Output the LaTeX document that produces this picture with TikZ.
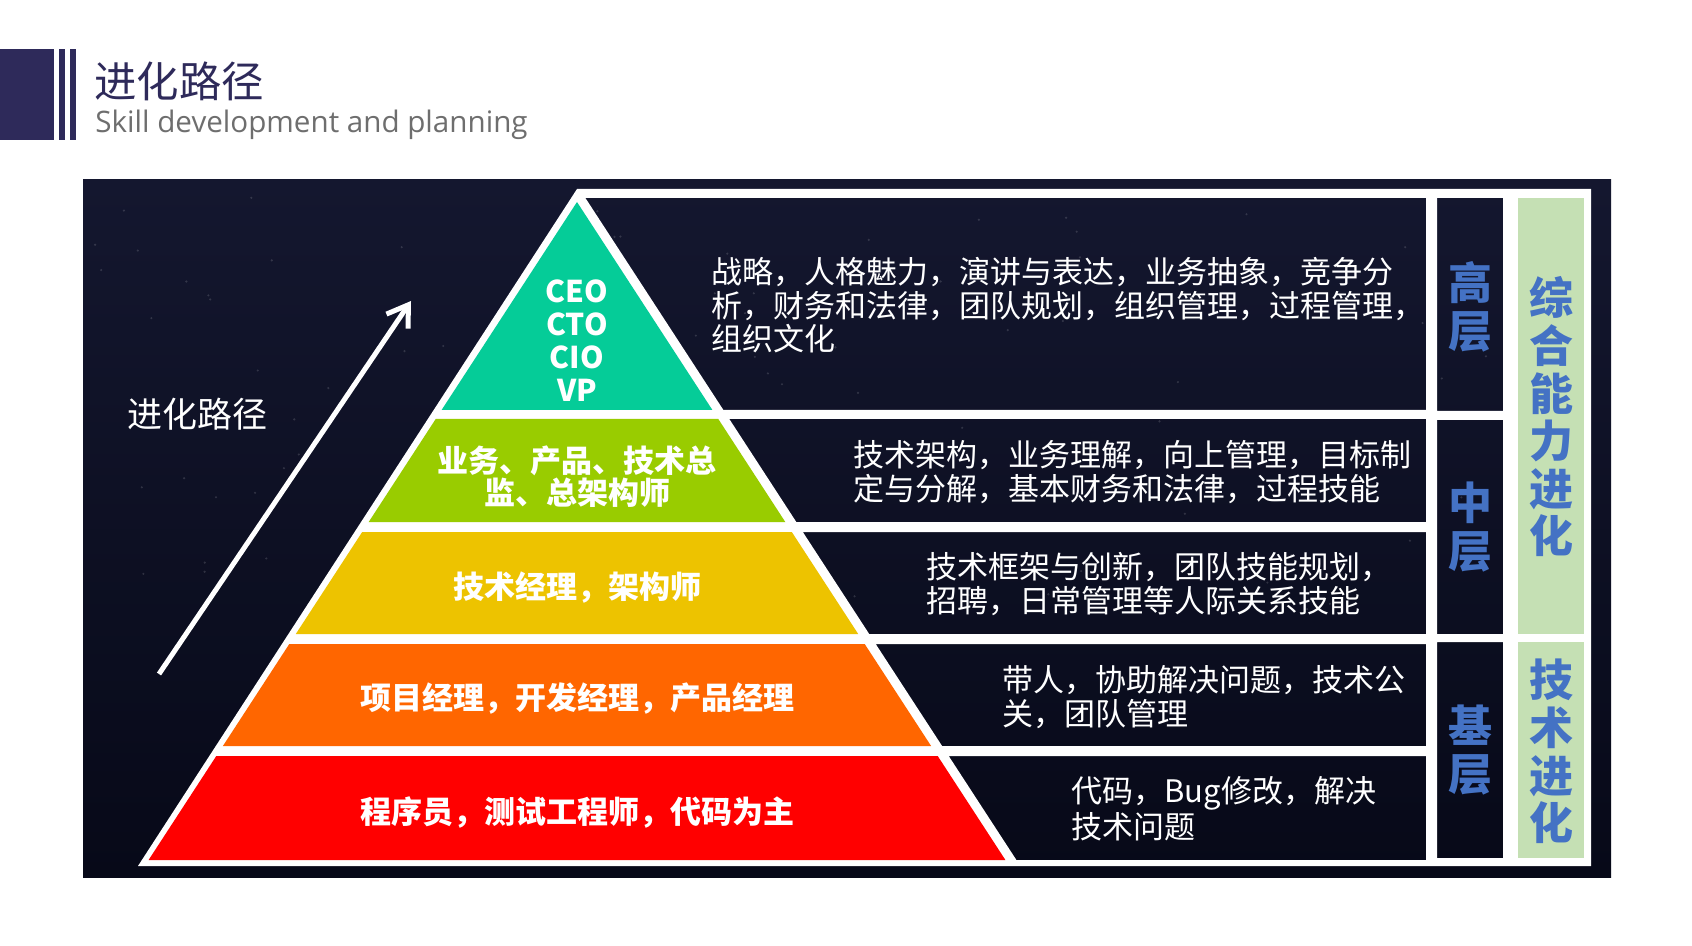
\documentclass[tikz,border=0pt]{standalone}
\usepackage{fontspec}
\setmainfont{Noto Sans CJK SC}
\newfontfamily\subfont{Open Sans}
\usetikzlibrary{arrows.meta}
\definecolor{navy}{HTML}{2E2A5A}
\definecolor{subgray}{HTML}{6E6E6E}
\definecolor{paneltop}{HTML}{14172F}
\definecolor{panelbot}{HTML}{070918}
\definecolor{layA}{HTML}{05CC98}
\definecolor{layB}{HTML}{99CC00}
\definecolor{layC}{HTML}{EDC300}
\definecolor{layD}{HTML}{FF6600}
\definecolor{layE}{HTML}{FF0000}
\definecolor{lvlblue}{HTML}{4472C4}
\definecolor{colgreen}{HTML}{C5E0B4}
\tikzset{
  lbl/.style={text=white, align=center, inner sep=0pt, font=\bfseries\fontsize{15.5}{16}\selectfont},
  desc/.style={text=white, align=left, anchor=west, inner sep=0pt, font=\fontsize{15.5}{16.75}\selectfont},
  lvl/.style={text=lvlblue, align=center, inner sep=0pt, font=\bfseries\fontsize{22}{24}\selectfont},
  colt/.style={text=lvlblue, align=center, inner sep=0pt, font=\bfseries\fontsize{22}{23.8}\selectfont},
}
\begin{document}
\begin{tikzpicture}[x=0.5pt,y=-0.5pt]
\useasboundingbox (0,0) rectangle (1692,946);
\fill[white] (0,0) rectangle (1692,946);
% header
\fill[navy] (0,49) rectangle (54,140);
\fill[navy] (59,49) rectangle (65,140);
\fill[navy] (70,49) rectangle (76,140);
\node[anchor=west, inner sep=0pt, text=navy, font=\fontsize{21.2}{24}\selectfont] (title) at (94,81) {进化路径};
\node[anchor=west, inner sep=0pt, text=subgray, font=\subfont\fontsize{14.8}{16}\selectfont] (subtitle) at (95,125) {Skill development and planning};
% panel
\shade[top color=paneltop, bottom color=panelbot] (83,180) rectangle (1611,877);
\pgfmathsetseed{7}
\foreach \i in {1,...,110}{
  \pgfmathsetmacro\sx{95+rnd*1500}
  \pgfmathsetmacro\sy{190+rnd*420}
  \fill[white, opacity=0.14] (\sx,\sy) circle (1.2);
}
% white frame with dark holes
\fill[white, even odd rule]
  (577,189) -- (1591,189) -- (1591,866) -- (138,866) -- cycle
  (585.4,198) -- (1426,198) -- (1426,410) -- (723.4,410) -- cycle
  (729.3,419) -- (1426,419) -- (1426,522) -- (796.3,522) -- cycle
  (802.8,532) -- (1426,532) -- (1426,634) -- (869.2,634) -- cycle
  (875.7,644) -- (1426,644) -- (1426,746) -- (942.1,746) -- cycle
  (948.7,756) -- (1426,756) -- (1426,860) -- (1016.4,860) -- cycle
  (1437,198) rectangle (1503,411)
  (1437,420) rectangle (1503,634)
  (1437,642) rectangle (1503,858);
% green column boxes
\fill[colgreen] (1518,198) rectangle (1584,634);
\fill[colgreen] (1518,642) rectangle (1584,858);
% pyramid layers
\fill[layA] (577,202) -- (712.4,410) -- (441.6,410) -- cycle;
\fill[layB] (435.7,419) -- (718.3,419) -- (785.3,522) -- (368.7,522) -- cycle;
\fill[layC] (362.2,532) -- (791.8,532) -- (858.2,634) -- (295.8,634) -- cycle;
\fill[layD] (289.3,644) -- (864.7,644) -- (931.1,746) -- (222.9,746) -- cycle;
\fill[layE] (216.3,756) -- (937.7,756) -- (1005.4,860) -- (148.6,860) -- cycle;
% layer labels
\node[lbl, font=\bfseries\fontsize{15}{16.5}\selectfont] (top) at (577,341) {CEO\\CTO\\CIO\\VP};
\node[lbl] (dir) at (577,477) {业务、产品、技术总\\监、总架构师};
\node[lbl] (arch) at (577,588) {技术经理，架构师};
\node[lbl] (pm) at (577,699) {项目经理，开发经理，产品经理};
\node[lbl] (dev) at (577,812) {程序员，测试工程师，代码为主};
% descriptions
\node[desc] (d1) at (711,305.5) {战略，人格魅力，演讲与表达，业务抽象，竞争分\\析，财务和法律，团队规划，组织管理，过程管理，\\组织文化};
\node[desc] (d2) at (853,472) {技术架构，业务理解，向上管理，目标制\\定与分解，基本财务和法律，过程技能};
\node[desc] (d3) at (926,584) {技术框架与创新，团队技能规划，\\招聘，日常管理等人际关系技能};
\node[desc] (d4) at (1002,697) {带人，协助解决问题，技术公\\关，团队管理};
\node[desc] (d5) at (1071,809) {代码，Bug修改，解决\\技术问题};
% level labels
\node[lvl] (hi) at (1470,307) {高\\层};
\node[lvl] (mid) at (1470,527) {中\\层};
\node[lvl] (base) at (1470,750) {基\\层};
\node[colt] (comp) at (1551,417) {综\\合\\能\\力\\进\\化};
\node[colt] (tech) at (1551,751.5) {技\\术\\进\\化};
% left label and arrow
\node[anchor=west, inner sep=0pt, text=white, font=\fontsize{17.5}{20}\selectfont] (path) at (127,414) {进化路径};
\coordinate (arrS) at (159,674);
\coordinate (arrE) at (411,301);
\draw[white, line width=2.5pt, -{Straight Barb[length=10pt,width=13pt]}] (arrS) -- (arrE);
\end{tikzpicture}
\end{document}
